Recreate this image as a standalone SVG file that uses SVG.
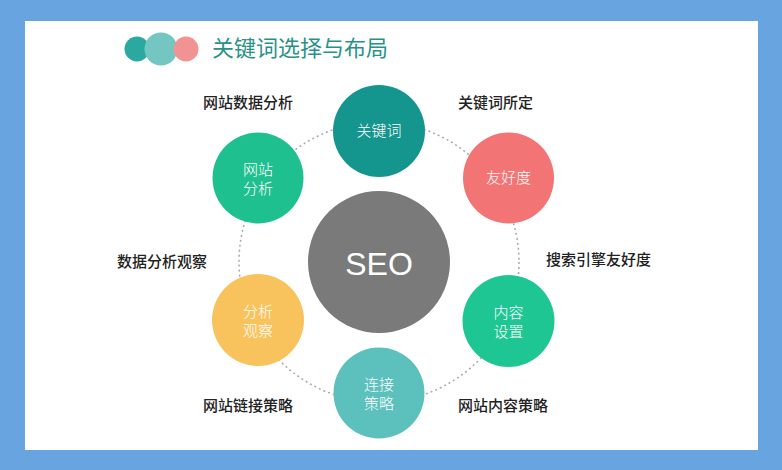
<svg xmlns="http://www.w3.org/2000/svg" width="782" height="470" viewBox="0 0 782 470">
<style>
.lbl{font-family:"Noto Sans CJK SC","Noto Sans",sans-serif;font-size:15px;fill:#222;font-weight:500;}
.in{font-family:"Noto Sans CJK SC","Noto Sans",sans-serif;font-size:15px;fill:#fff;text-anchor:middle;font-weight:300;}
.ring{fill:none;stroke:#a8a8a8;stroke-width:1.5;stroke-dasharray:2 3;}
</style>
<rect x="0" y="0" width="782" height="470" fill="#68a4e0"/>
<rect x="25" y="21" width="733" height="429" fill="#fff"/>
<g id="title">
<circle cx="137" cy="49" r="12.5" fill="#2aa9a0"/>
<circle cx="161" cy="49" r="16.5" fill="#74c6c2"/>
<circle cx="186" cy="49" r="12.5" fill="#f29393"/>
<text x="212" y="56" font-family="Noto Sans CJK SC,sans-serif" font-size="22" fill="#2a9189">关键词选择与布局</text>
</g>
<g id="connectors">
<circle class="ring" cx="379" cy="262" r="140"/>
</g>
<g id="seo">
<circle cx="379" cy="262" r="71" fill="#7a7a7a"/>
<text x="379" y="275" font-family="Liberation Sans,Arial,sans-serif" font-size="32" fill="#fff" text-anchor="middle">SEO</text>
</g>
<g id="keyword">
<circle cx="379" cy="131" r="46" fill="#14958d"/>
<text class="in" x="379" y="136">关键词</text>
</g>
<g id="friendly">
<circle cx="508.5" cy="178" r="45.5" fill="#f37474"/>
<text class="in" x="508.5" y="183">友好度</text>
</g>
<g id="site-analysis">
<circle cx="258" cy="178" r="45.5" fill="#1fc08f"/>
<text class="in" x="258" y="175">网站</text>
<text class="in" x="258" y="194">分析</text>
</g>
<g id="observe">
<circle cx="258" cy="320" r="46" fill="#f8c35c"/>
<text class="in" x="258" y="317">分析</text>
<text class="in" x="258" y="336">观察</text>
</g>
<g id="content">
<circle cx="508.5" cy="321" r="46" fill="#1ec693"/>
<text class="in" x="508.5" y="318">内容</text>
<text class="in" x="508.5" y="337">设置</text>
</g>
<g id="link">
<circle cx="379" cy="393" r="45.5" fill="#5cc0bd"/>
<text class="in" x="379" y="390">连接</text>
<text class="in" x="379" y="409">策略</text>
</g>
<g id="labels">
<text class="lbl" x="203" y="108">网站数据分析</text>
<text class="lbl" x="458" y="108">关键词所定</text>
<text class="lbl" x="117" y="267">数据分析观察</text>
<text class="lbl" x="546" y="265">搜索引擎友好度</text>
<text class="lbl" x="203" y="411">网站链接策略</text>
<text class="lbl" x="458" y="411">网站内容策略</text>
</g>
</svg>
